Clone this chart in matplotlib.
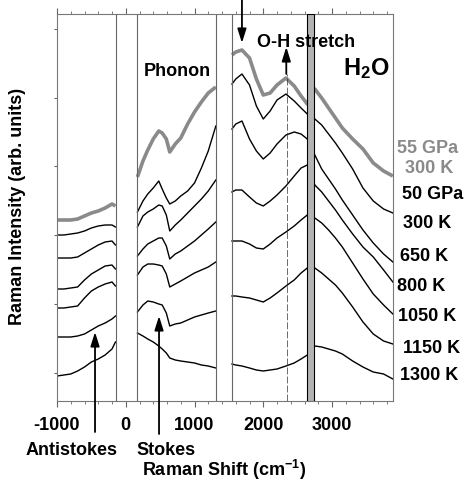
import numpy as np
import matplotlib.pyplot as plt
from matplotlib.ticker import MultipleLocator

plt.rcParams['font.family'] = ['Liberation Sans', 'DejaVu Sans']
plt.rcParams['font.weight'] = 'bold'
plt.rcParams['axes.unicode_minus'] = False
plt.rcParams['mathtext.fontset'] = 'custom'
plt.rcParams['mathtext.rm'] = 'Liberation Sans:bold'
plt.rcParams['mathtext.it'] = 'Liberation Sans:bold'
plt.rcParams['mathtext.bf'] = 'Liberation Sans:bold'
plt.rcParams['mathtext.default'] = 'rm'

# Raman shift grids (cm-1) for the three measured windows
x_anti = [-1000, -900, -800, -700, -600, -500, -400, -300, -200, -150]
x_phon = [170, 250, 320, 400, 480, 530, 590, 640, 720, 800, 900, 1000, 1100, 1200, 1310]
x_oh = [1545, 1600, 1690, 1800, 1900, 2000, 2100, 2200, 2330, 2450, 2550, 2640,
        2750, 2850, 2950, 3050, 3150, 3300, 3450, 3600, 3750, 3885]

# intensities (arb. units, offset stacked)
gray_anti = [181, 181, 181, 182, 185, 188, 190, 193, 197, 195]
gray_phon = [224, 240, 251, 262, 270, 268, 262, 249, 257, 263, 277, 289, 299, 308, 314]
gray_oh = [346, 349, 351, 343, 322, 306, 308, 316, 323, 315, 305, 297,
           312, 303, 293, 283, 273, 262, 252, 238, 230, 225]

temps = ['300 K', '650 K', '800 K', '1050 K', '1150 K', '1300 K']
anti = [
    [166, 166, 167, 168, 170, 173, 175, 176, 176, 174],
    [143, 143, 143, 144, 148, 152, 156, 159, 160, 156],
    [112, 112, 113, 114, 121, 127, 131, 135, 136, 132],
    [93, 93, 94, 95, 103, 110, 114, 117, 119, 115],
    [64, 64, 64, 65, 67, 71, 75, 78, 82, 85],
    [25, 26, 27, 30, 34, 39, 42, 46, 52, 59],
]
phon = [
    [189, 200, 207, 213, 220, 212, 203, 197, 200, 205, 210, 218, 233, 250, 275],
    [174, 185, 189, 192, 196, 195, 186, 170, 176, 181, 188, 195, 202, 210, 221],
    [145, 152, 157, 160, 163, 163, 155, 142, 147, 150, 155, 160, 166, 172, 179],
    [126, 134, 137, 137, 136, 135, 127, 114, 117, 120, 124, 128, 131, 134, 139],
    [89, 96, 100, 99, 97, 96, 88, 75, 77, 78, 81, 84, 86, 88, 90],
    [68, 65, 62, 59, 55, 52, 48, 43, 41, 40, 39, 38, 36, 35, 33],
]
oh = [
    [317, 322, 327, 316, 295, 282, 290, 301, 307, 300, 293, 287,
     282, 276, 267, 258, 248, 232, 213, 200, 192, 188],
    [272, 277, 280, 262, 250, 242, 248, 257, 266, 269, 267, 262,
     246, 232, 222, 212, 201, 186, 171, 158, 147, 139],
    [209, 211, 211, 204, 198, 195, 200, 206, 215, 225, 233, 236,
     216, 209, 200, 191, 181, 167, 154, 144, 131, 119],
    [160, 160, 160, 157, 153, 152, 157, 163, 169, 175, 181, 186,
     183, 178, 171, 163, 154, 138, 122, 107, 96, 87],
    [105, 105, 104, 103, 101, 99, 103, 108, 115, 121, 128, 133,
     133, 128, 122, 116, 108, 94, 79, 67, 60, 57],
    [37, 36, 35, 33, 31, 30, 31, 32, 35, 38, 42, 46,
     55, 54, 52, 50, 47, 40, 34, 29, 27, 22],
]

gap_edges = [-146, 168, 1313, 1541]
band = (2641, 2743)

W, H = 466, 481
GRAY = '#8a8a8a'


def fx(px):
    return px / W


def fy(py):
    return 1 - py / H


fig = plt.figure(figsize=(W / 100, H / 100), dpi=100)
ax = fig.add_axes([fx(57), fy(402), (393 - 57) / W, (402 - 15) / H])

for xs, ys in [(x_anti, gray_anti), (x_phon, gray_phon), (x_oh, gray_oh)]:
    ax.plot(xs, ys, color=GRAY, lw=2.6, solid_capstyle='butt')
for a, p, o in zip(anti, phon, oh):
    for xs, ys in [(x_anti, a), (x_phon, p), (x_oh, o)]:
        ax.plot(xs, ys, color='k', lw=1.0)

for g in gap_edges:
    ax.axvline(g, color='#666666', lw=0.8)
ax.axvspan(band[0], band[1], facecolor='#b4b4b4', edgecolor='k', lw=0.8, zorder=5)
ax.plot([2345, 2345], [0, 327], color='#333333', lw=0.5, ls=(0, (10, 3)))

ax.set_xlim(-1000, 3887)
ax.set_ylim(0, 387)
ax.set_xticks([-1000, 0, 1000, 2000, 3000])
ax.xaxis.set_minor_locator(MultipleLocator(200))
ax.set_yticks(28.5 + 68.7 * np.arange(6))
ax.set_yticklabels([])
ax.tick_params(axis='x', which='both', direction='out', top=True, bottom=True,
               labelsize=13, pad=7, color='#666666')
ax.tick_params(axis='x', which='major', length=4)
ax.tick_params(axis='x', which='minor', length=2.5)
ax.tick_params(axis='y', direction='out', length=2.5, color='#666666')
for s in ax.spines.values():
    s.set_color('#777777')
    s.set_linewidth(0.8)

arrow = dict(arrowstyle='-|>,head_length=0.7,head_width=0.22', color='k',
             lw=1.3, mutation_scale=12, shrinkA=0, shrinkB=0)
ax.annotate('', xy=(1690, 358), xytext=(1690, 405), arrowprops=arrow,
            annotation_clip=False)
ax.annotate('', xy=(2335, 354), xytext=(2335, 327), arrowprops=arrow,
            annotation_clip=False)
ax.annotate('', xy=(-447, 69), xytext=(-447, -31), arrowprops=arrow,
            annotation_clip=False)
ax.annotate('', xy=(484, 85), xytext=(484, -33), arrowprops=arrow,
            annotation_clip=False)

fs = 13
fig.text(fx(177), fy(76), 'Phonon', fontsize=fs, ha='center', va='baseline')
fig.text(fx(257), fy(47), 'O-H stretch', fontsize=fs, ha='left', va='baseline')
fig.text(fx(343), fy(75), 'H$_2$O', fontsize=17, ha='left', va='baseline')

fig.text(fx(397), fy(153), '55 GPa', fontsize=fs, color=GRAY, va='baseline')
fig.text(fx(405), fy(173), '300 K', fontsize=fs, color=GRAY, va='baseline')
fig.text(fx(402), fy(199), '50 GPa', fontsize=fs, va='baseline')
label_px = [(403, 228), (400, 261), (397, 291), (398, 321), (403, 353), (400, 380)]
for t, (lx, ly) in zip(temps, label_px):
    fig.text(fx(lx), fy(ly), t, fontsize=fs, va='baseline')

fig.text(fx(72), fy(455), 'Antistokes', fontsize=fs, ha='center', va='baseline')
fig.text(fx(166), fy(455), 'Stokes', fontsize=fs, ha='center', va='baseline')
fig.text(fx(224), fy(476), 'Raman Shift (cm$^{-1}$)', fontsize=fs, ha='center',
         va='baseline')
fig.text(fx(17.5), fy(206), 'Raman Intensity (arb. units)', fontsize=fs,
         rotation=90, ha='center', va='center')

fig.savefig('out.png', dpi=100)
